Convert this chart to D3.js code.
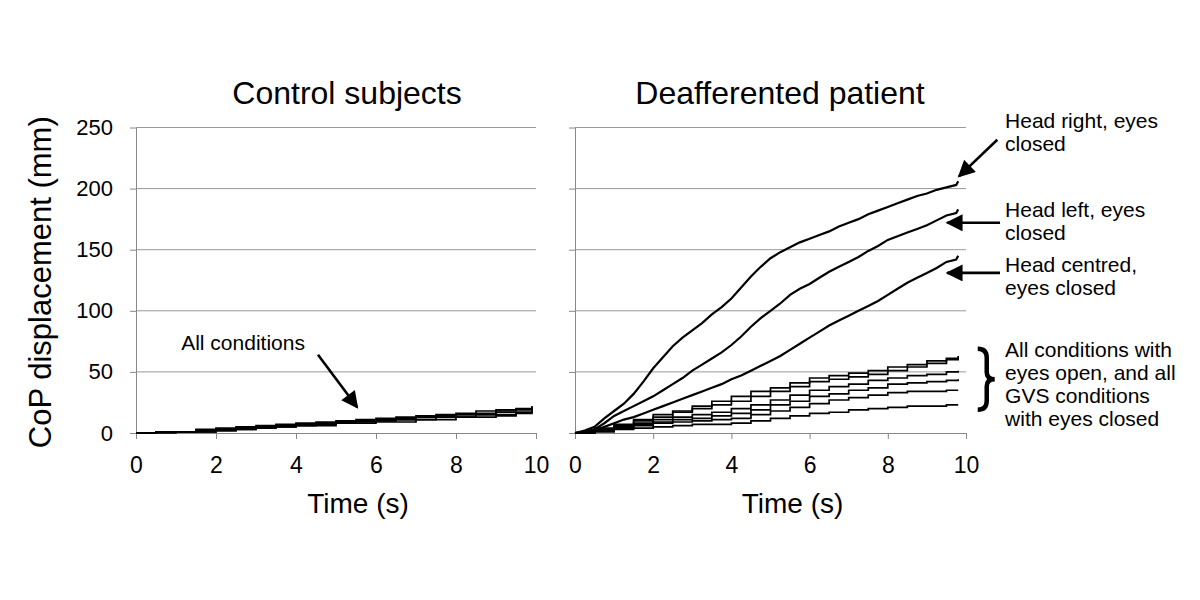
<!DOCTYPE html>
<html>
<head>
<meta charset="utf-8">
<script src="https://cdn.jsdelivr.net/npm/d3@7"></script>
<style>
  body { margin: 0; background: #fff; }
  text { font-family: "Liberation Sans", Arial, sans-serif; fill: #000; }
</style>
</head>
<body>
<svg id="chart" width="1200" height="600"></svg>
<script>
// --- data: CoP displacement (mm) over time (s) ---
const yTicks = [0, 50, 100, 150, 200, 250];
const xTicks = [0, 2, 4, 6, 8, 10];

// control subjects, all conditions (step traces)
const ctlTime = [0, 0.5, 1, 1.5, 2, 2.5, 3, 3.5, 4, 4.5, 5, 5.5, 6, 6.5, 7, 7.5, 8, 8.5, 9, 9.5, 9.9];
const ctl1 = [0, 1, 1, 3, 3, 5, 5, 7, 7, 9, 9, 11, 11, 13, 13, 15, 15, 18, 18, 20, 22];
const ctl2 = [0, 1, 1, 2, 4, 4, 6, 6, 8, 8, 10, 10, 12, 12, 14, 14, 16, 16, 19, 19, 21];
const ctl3 = [0, 1, 1, 1, 3, 3, 5, 5, 7, 7, 9, 9, 11, 11, 13, 13, 15, 15, 17, 17, 19];
const ctl4 = [0, 0, 1, 1, 2, 4, 4, 6, 6, 8, 8, 10, 10, 11, 11, 13, 13, 15, 15, 17, 18];
const ctl5 = [0, 1, 1, 2, 2, 3, 5, 5, 6, 6, 8, 8, 9, 9, 11, 11, 13, 13, 14, 16, 17];

// deafferented patient, eyes closed, head positions
const bigTime = [0, 0.25, 0.5, 0.75, 1, 1.25, 1.5, 1.75, 2, 2.25, 2.5, 2.75, 3, 3.25, 3.5, 3.75,
  4, 4.25, 4.5, 4.75, 5, 5.25, 5.5, 5.75, 6, 6.25, 6.5, 6.75, 7, 7.25, 7.5, 7.75,
  8, 8.25, 8.5, 8.75, 9, 9.25, 9.5, 9.75, 9.8];
const headRight = [0, 2, 5, 12, 18, 24, 32, 42, 53, 62, 71, 78, 84, 90, 97, 103,
  110, 119, 128, 136, 143, 148, 152, 156, 159, 162, 165, 169, 172, 175, 179, 182,
  185, 188, 191, 194, 196, 199, 201, 203, 206];
const headLeft = [0, 1, 3, 8, 14, 18, 22, 26, 30, 35, 40, 45, 51, 56, 61, 66,
  72, 79, 87, 94, 100, 106, 113, 118, 122, 127, 132, 136, 140, 144, 149, 153,
  158, 161, 164, 167, 170, 174, 178, 180, 183];
const headCentre = [0, 1, 2, 5, 8, 11, 13, 16, 19, 22, 25, 28, 31, 34, 37, 40,
  44, 47, 51, 55, 59, 63, 68, 73, 78, 83, 88, 92, 96, 100, 104, 108,
  113, 118, 123, 127, 131, 135, 140, 142, 145];

// deafferented patient, eyes open + GVS eyes closed
const lowTime = [0, 0.5, 1, 1.5, 2, 2.5, 3, 3.5, 4, 4.5, 5, 5.5, 6, 6.5, 7, 7.5, 8, 8.5, 9, 9.5, 9.8];
const low1 = [0, 4, 7, 11, 15, 18, 22, 26, 30, 34, 37, 41, 45, 47, 49, 51, 54, 56, 59, 61, 63];
const low2 = [0, 3, 6, 10, 13, 17, 20, 23, 26, 30, 34, 38, 42, 44, 46, 48, 51, 54, 57, 60, 62];
const low3 = [0, 2, 5, 8, 11, 13, 15, 17, 20, 23, 27, 31, 35, 38, 40, 43, 45, 47, 48, 50, 51];
const low4 = [0, 2, 4, 7, 9, 11, 12, 14, 16, 19, 23, 26, 30, 32, 35, 37, 40, 41, 42, 43, 44];
const low5 = [0, 2, 4, 6, 8, 9, 10, 11, 12, 15, 18, 21, 24, 27, 29, 31, 33, 34, 34, 35, 35];
const low6 = [0, 1, 3, 4, 5, 6, 7, 7, 8, 10, 12, 14, 16, 17, 19, 20, 21, 22, 22, 23, 23];

const svg = d3.select("#chart");

// arrow head marker
svg.append("defs").append("marker")
  .attr("id", "arrow")
  .attr("viewBox", "0 0 10 10")
  .attr("refX", 9).attr("refY", 5)
  .attr("markerUnits", "userSpaceOnUse")
  .attr("markerWidth", 20).attr("markerHeight", 17)
  .attr("orient", "auto")
  .append("path").attr("d", "M0,0 L10,5 L0,10 z").attr("fill", "#000");

const y = d3.scaleLinear().domain([0, 250]).range([433, 127.5]);

// draws one panel: grid, axes, traces
function panel(x0, x1, title, titleX, series, showYLabels) {
  const x = d3.scaleLinear().domain([0, 10]).range([x0, x1]);
  const g = svg.append("g");

  // horizontal gridlines
  g.selectAll("line.grid").data(yTicks.slice(1)).enter().append("line")
    .attr("x1", x0).attr("x2", x1)
    .attr("y1", d => y(d)).attr("y2", d => y(d))
    .attr("stroke", "#999").attr("stroke-width", 1);

  // y axis
  const ya = g.append("g").attr("transform", `translate(${x0},0)`)
    .call(d3.axisLeft(y).tickValues(yTicks).tickSize(6).tickSizeOuter(0).tickPadding(17)
      .tickFormat(showYLabels ? d3.format("d") : ""));
  ya.selectAll("path, line").attr("stroke", "#888");
  ya.selectAll("text").attr("font-size", 22).attr("font-family", null);

  // x axis
  const xa = g.append("g").attr("transform", `translate(0,${y(0)})`)
    .call(d3.axisBottom(x).tickValues(xTicks).tickSize(6).tickSizeOuter(0).tickPadding(18)
      .tickFormat(d3.format("d")));
  xa.selectAll("path, line").attr("stroke", "#888");
  xa.selectAll("text").attr("font-size", 23).attr("font-family", null);

  // traces: staircase for the slow ones, fine zigzag (linear) for the big ones
  const step = d3.line().curve(d3.curveStepAfter).x(d => x(d[0])).y(d => y(d[1]));
  const lin = d3.line().x(d => x(d[0])).y(d => y(d[1]));
  g.selectAll("path.trace").data(series).enter().append("path")
    .attr("class", "trace")
    .attr("d", s => (s.smooth ? lin : step)(s.t.map((t, i) => [t, s.v[i]])))
    .attr("fill", "none").attr("stroke", "#000")
    .attr("stroke-width", s => s.smooth ? 2.2 : 1.7);

  // panel title and x label
  svg.append("text").attr("x", titleX).attr("y", 104).attr("text-anchor", "middle")
    .attr("font-size", 32).text(title);
  svg.append("text").attr("x", (x0 + x1) / 2 + 22).attr("y", 513).attr("text-anchor", "middle")
    .attr("font-size", 28).text("Time (s)");
  return x;
}

const xL = panel(136, 536, "Control subjects", 347, [
  { t: ctlTime, v: ctl1 }, { t: ctlTime, v: ctl2 }, { t: ctlTime, v: ctl3 },
  { t: ctlTime, v: ctl4 }, { t: ctlTime, v: ctl5 }
], true);

const xR = panel(575, 966, "Deafferented patient", 780, [
  { t: lowTime, v: low1 }, { t: lowTime, v: low2 }, { t: lowTime, v: low3 },
  { t: lowTime, v: low4 }, { t: lowTime, v: low5 }, { t: lowTime, v: low6 },
  { t: bigTime, v: headCentre, smooth: true },
  { t: bigTime, v: headLeft, smooth: true },
  { t: bigTime, v: headRight, smooth: true }
], false);

// y axis title
svg.append("text")
  .attr("transform", `translate(51,${(y(0) + y(250)) / 2 + 2}) rotate(-90)`)
  .attr("text-anchor", "middle").attr("font-size", 31)
  .text("CoP displacement (mm)");

// --- annotations ---
function arrow(x, t0, v0, t1, v1) {
  svg.append("line")
    .attr("x1", x(t0)).attr("y1", y(v0)).attr("x2", x(t1)).attr("y2", y(v1))
    .attr("stroke", "#000").attr("stroke-width", 2.6)
    .attr("marker-end", "url(#arrow)");
}
function label(x, t, v, lines) {
  const txt = svg.append("text").attr("x", x(t)).attr("y", y(v)).attr("font-size", 21);
  lines.forEach((l, i) => txt.append("tspan").attr("x", x(t)).attr("dy", i ? 23 : 0).text(l));
}

label(xL, 1.13, 68, ["All conditions"]);
arrow(xL, 4.55, 64, 5.53, 21);

label(xR, 11.0, 250, ["Head right, eyes", "closed"]);
arrow(xR, 10.8, 240, 9.82, 210);

label(xR, 11.0, 177, ["Head left, eyes", "closed"]);
arrow(xR, 10.87, 172, 9.52, 172);

label(xR, 11.0, 132, ["Head centred,", "eyes closed"]);
arrow(xR, 10.87, 131, 9.52, 131);

label(xR, 11.0, 62, ["All conditions with", "eyes open, and all", "GVS conditions", "with eyes closed"]);

// curly brace
const bx = xR(10.3), bTop = y(69), bBot = y(19), bMid = (bTop + bBot) / 2;
svg.append("path")
  .attr("d", `M${bx},${bTop} Q${bx + 9},${bTop} ${bx + 9},${bTop + 9} L${bx + 9},${bMid - 7}
    Q${bx + 9},${bMid} ${bx + 17},${bMid} Q${bx + 9},${bMid} ${bx + 9},${bMid + 7}
    L${bx + 9},${bBot - 9} Q${bx + 9},${bBot} ${bx},${bBot}`)
  .attr("fill", "none").attr("stroke", "#000").attr("stroke-width", 4.5);
</script>
</body>
</html>
